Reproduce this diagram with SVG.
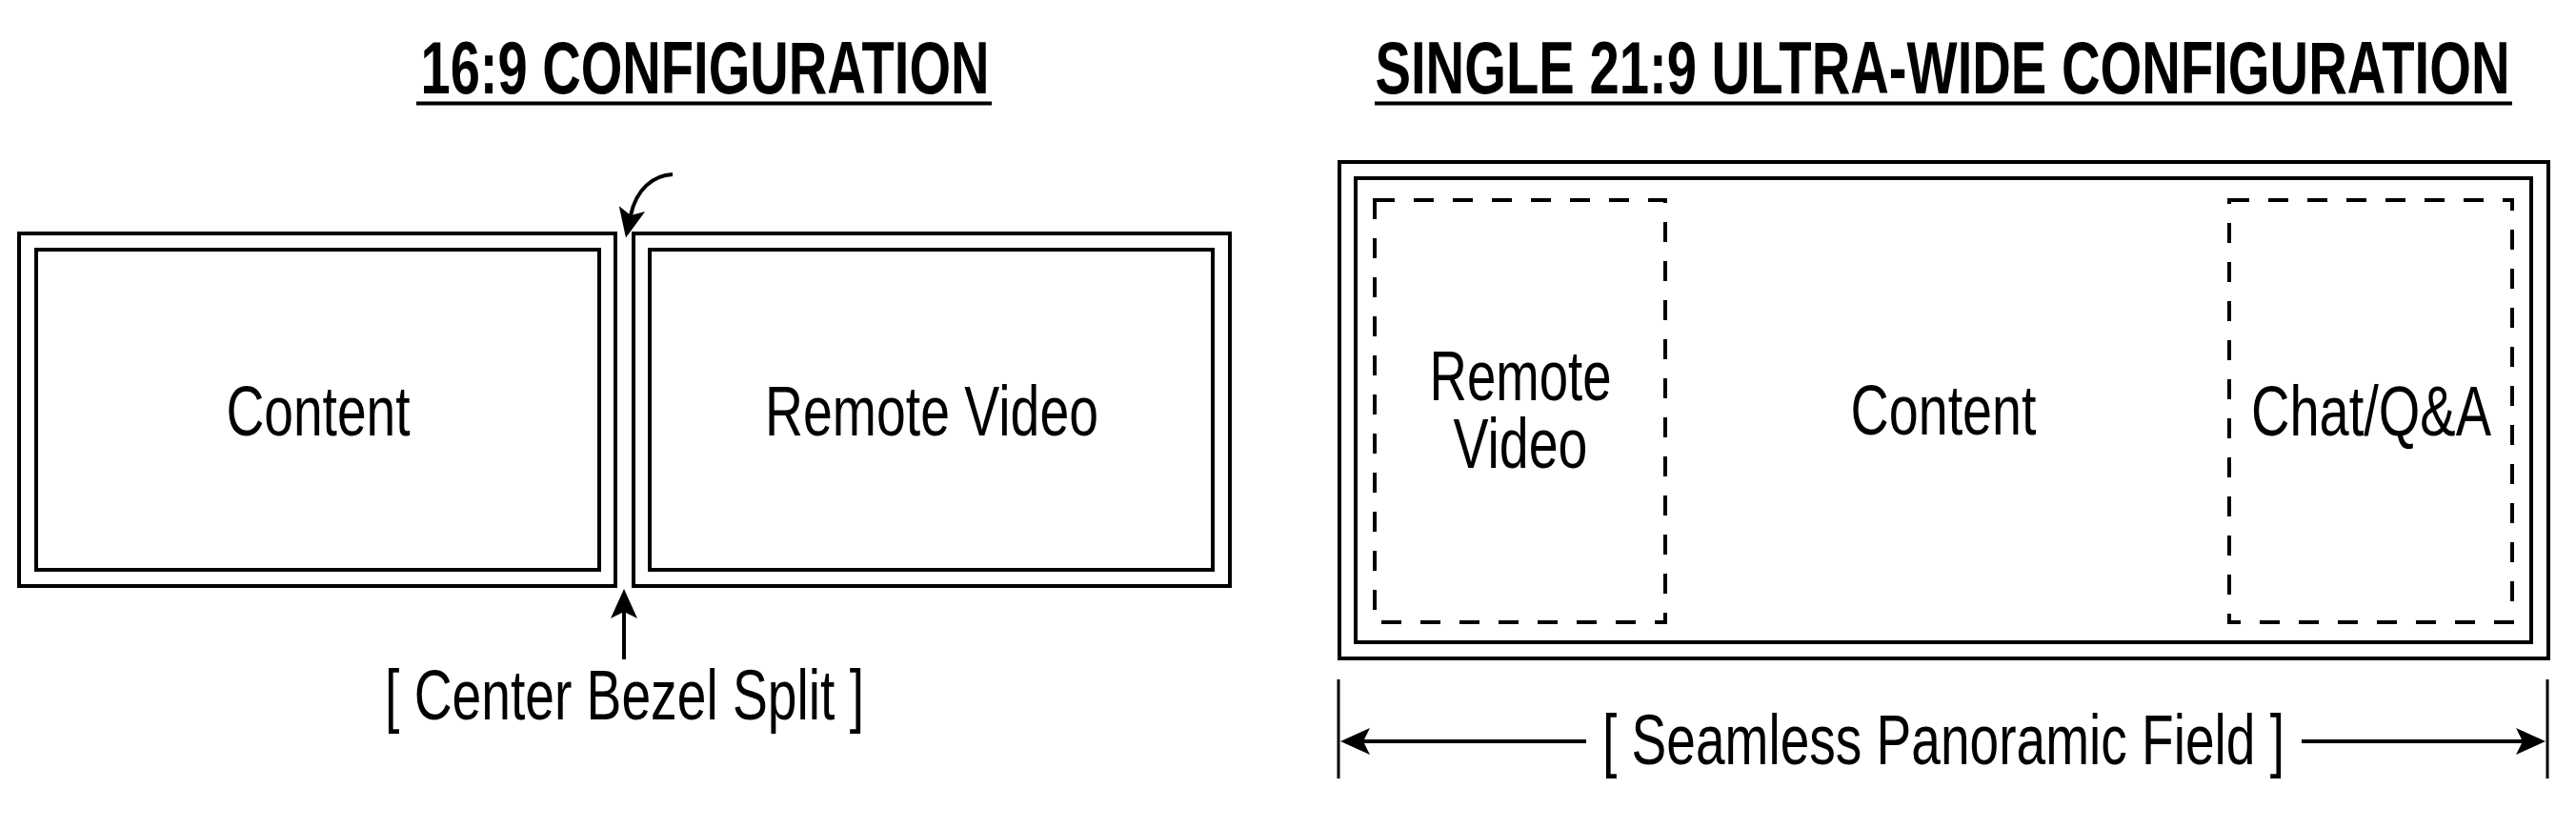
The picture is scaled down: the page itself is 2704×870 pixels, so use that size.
<svg xmlns="http://www.w3.org/2000/svg" width="2704" height="870" viewBox="0 0 2704 870">
<style>
.frame{fill:none;stroke:#000;stroke-width:4}
.dash{fill:none;stroke:#000;stroke-width:4;stroke-dasharray:21 20}
.lbl{font-family:"Liberation Sans",Arial,sans-serif;font-size:74px;fill:#000;text-anchor:middle}
.ttl{font-family:"Liberation Sans",Arial,sans-serif;font-size:78px;font-weight:bold;fill:#000;text-anchor:middle}
.conn{fill:none;stroke:#000;stroke-width:4}
.tick{fill:none;stroke:#000;stroke-width:3}
</style>
<defs>
<marker id="ah" viewBox="-32 -15 33 30" refX="-24" refY="0" markerWidth="33" markerHeight="30" markerUnits="userSpaceOnUse" orient="auto">
<path d="M0,0 L-31,-14 L-24,0 L-31,14 Z" fill="#000"/>
</marker>
</defs>
<rect width="2704" height="870" fill="#fff"/>

<g id="title-left">
<text class="ttl" x="740" y="98" textLength="597" lengthAdjust="spacingAndGlyphs">16:9 CONFIGURATION</text>
<rect x="437" y="106.5" width="604" height="4" fill="#000"/>
</g>
<g id="title-right">
<text class="ttl" x="2039" y="98" textLength="1191" lengthAdjust="spacingAndGlyphs">SINGLE 21:9 ULTRA-WIDE CONFIGURATION</text>
<rect x="1443" y="106.5" width="1194" height="4" fill="#000"/>
</g>

<g id="screen-content">
<rect class="frame" x="20" y="245" width="626" height="370"/>
<rect class="frame" x="38" y="262" width="591" height="336"/>
<text class="lbl" x="334" y="457" textLength="193" lengthAdjust="spacingAndGlyphs">Content</text>
</g>
<g id="screen-remote">
<rect class="frame" x="665" y="245" width="626" height="370"/>
<rect class="frame" x="682" y="262" width="591" height="336"/>
<text class="lbl" x="978" y="457" textLength="350" lengthAdjust="spacingAndGlyphs">Remote Video</text>
</g>
<g id="label-bezel">
<text class="lbl" x="655.5" y="755" textLength="503" lengthAdjust="spacingAndGlyphs">[ Center Bezel Split ]</text>
</g>

<g id="ultrawide">
<rect class="frame" x="1406" y="170" width="1269" height="521"/>
<rect class="frame" x="1423" y="187" width="1234" height="487"/>
<text class="lbl" x="2040" y="456" textLength="195" lengthAdjust="spacingAndGlyphs">Content</text>
</g>
<g id="zone-remote">
<rect class="dash" x="1443" y="210" width="305" height="443"/>
<text class="lbl" x="1596" y="420" textLength="191" lengthAdjust="spacingAndGlyphs">Remote</text>
<text class="lbl" x="1596" y="491" textLength="141" lengthAdjust="spacingAndGlyphs">Video</text>
</g>
<g id="zone-chat">
<rect class="dash" x="2340" y="210" width="297" height="443"/>
<text class="lbl" x="2489" y="457" textLength="252" lengthAdjust="spacingAndGlyphs">Chat/Q&amp;A</text>
</g>
<g id="label-field">
<text class="lbl" x="2040" y="802" textLength="716" lengthAdjust="spacingAndGlyphs">[ Seamless Panoramic Field ]</text>
</g>

<g id="connectors">
<path class="conn" d="M706,183 C686,184 668,198 662,226" marker-end="url(#ah)"/>
<path class="conn" d="M655,692 L655,642" marker-end="url(#ah)"/>
<line class="tick" x1="1405" y1="713" x2="1405" y2="817"/>
<line class="tick" x1="2674" y1="713" x2="2674" y2="817"/>
<path class="conn" d="M1665,778 L1431,778" marker-end="url(#ah)"/>
<path class="conn" d="M2416,778 L2648,778" marker-end="url(#ah)"/>
</g>
</svg>
